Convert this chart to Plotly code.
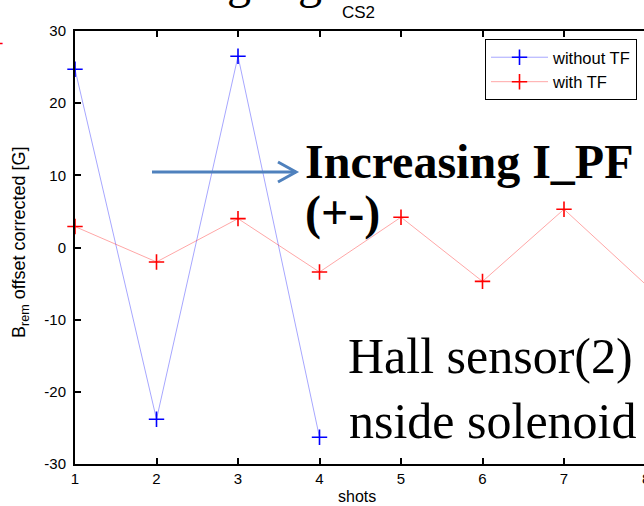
import plotly.graph_objects as go

# Remanent field (offset corrected) per shot, in gauss
shots_without_tf = [1, 2, 3, 4]
brem_without_tf = [24.7, -23.8, 26.5, -26.3]
shots_with_tf = [1, 2, 3, 4, 5, 6, 7, 8]
brem_with_tf = [2.9, -2.0, 4.0, -3.4, 4.2, -4.7, 5.3, -5.1]

y_ticks = [-30, -20, -10, 0, 10, 20, 30]
y_tick_text = ["-30", "-20", "-10", "0", "10", "20", "30"]
x_ticks = [1, 2, 3, 4, 5, 6, 7]

W, H = 644, 506
L, R, T, B = 75, 644, 31, 464
X_UNIT = 81.5  # pixels per shot


def px(x):
    return (x - L) / (R - L)


def py(y):
    return (B - y) / (B - T)


SANS = "Liberation Sans"
SERIF = "Liberation Serif"
BLUE = "#0000ff"
RED = "#ff0000"
ARROW = "#4f81bd"

fig = go.Figure()
fig.add_trace(go.Scatter(
    x=shots_without_tf, y=brem_without_tf, name="without TF",
    mode="lines+markers",
    line=dict(color="rgba(0,0,255,0.35)", width=1),
    marker=dict(symbol="cross-thin", size=11, color=BLUE,
                line=dict(color=BLUE, width=1.6)),
    cliponaxis=False,
))
fig.add_trace(go.Scatter(
    x=shots_with_tf, y=brem_with_tf, name="with TF",
    mode="lines+markers",
    line=dict(color="rgba(255,0,0,0.35)", width=1),
    marker=dict(symbol="cross-thin", size=11, color=RED,
                line=dict(color=RED, width=1.6)),
    cliponaxis=False,
))

axis_font = dict(family=SANS, size=15, color="black")

fig.update_layout(
    width=W, height=H,
    margin=dict(l=L, r=W - R, t=T, b=H - B, pad=0),
    paper_bgcolor="white", plot_bgcolor="white",
    showlegend=True,
    legend=dict(
        x=px(637), xanchor="right", y=py(39), yanchor="top",
        bordercolor="black", borderwidth=1, bgcolor="white",
        font=dict(family=SANS, size=16.5, color="black"),
        tracegroupgap=0, itemwidth=57,
    ),
    xaxis=dict(
        range=[1, 1 + (R - L) / X_UNIT],
        tickmode="array", tickvals=x_ticks,
        ticks="inside", ticklen=6, tickwidth=2, tickcolor="black",
        showline=True, linecolor="black", linewidth=2, mirror="ticks",
        showgrid=False, zeroline=False,
        tickfont=axis_font,
    ),
    yaxis=dict(
        range=[-30, 30],
        tickmode="array", tickvals=y_ticks, ticktext=y_tick_text,
        ticks="inside", ticklen=6, tickwidth=2, tickcolor="black",
        showline=True, linecolor="black", linewidth=2, mirror=False,
        showgrid=False, zeroline=False,
        tickfont=axis_font, ticklabelstandoff=4,
    ),
    yaxis2=dict(
        overlaying="y", side="right", matches="y",
        tickmode="array", tickvals=y_ticks,
        ticks="inside", ticklen=6, tickwidth=2, tickcolor="black",
        showticklabels=False, showline=False, showgrid=False, zeroline=False,
    ),
)

# arrow pointing right, drawn as a line with an open chevron head
ax0, ax1, ay = 152, 296, 172
fig.add_shape(type="path", xref="paper", yref="paper",
              path=f"M{px(ax0)},{py(ay)} L{px(ax1)},{py(ay)}",
              line=dict(color=ARROW, width=3))
fig.add_shape(type="path", xref="paper", yref="paper",
              path=(f"M{px(ax1 - 18)},{py(ay - 10)} L{px(ax1)},{py(ay)} "
                    f"L{px(ax1 - 18)},{py(ay + 10)}"),
              line=dict(color=ARROW, width=3))

annotations = [
    # title remnants at the top edge
    dict(text="g", x=px(239), y=py(10), xanchor="center", yanchor="bottom",
         font=dict(family=SERIF, size=48, color="black")),
    dict(text="g", x=px(310), y=py(10), xanchor="center", yanchor="bottom",
         font=dict(family=SERIF, size=48, color="black")),
    dict(text="CS2", x=px(340), y=py(12), xanchor="left", yanchor="middle",
         font=dict(family=SANS, size=17, color="black")),
    # overlay captions
    dict(text="<b>Increasing I_PF</b>", x=px(303), y=py(161),
         xanchor="left", yanchor="middle",
         font=dict(family=SERIF, size=48, color="black")),
    dict(text="<b>(+-)</b>", x=px(303), y=py(213),
         xanchor="left", yanchor="middle",
         font=dict(family=SERIF, size=48, color="black")),
    dict(text="Hall sensor(2)", x=px(346), y=py(356),
         xanchor="left", yanchor="middle",
         font=dict(family=SERIF, size=50, color="black")),
    dict(text="nside solenoid", x=px(347), y=py(421),
         xanchor="left", yanchor="middle",
         font=dict(family=SERIF, size=50, color="black")),
    # axis titles
    dict(text="B<sub>rem</sub> offset corrected [G]", textangle=-90,
         x=px(20), y=py(243), xanchor="center", yanchor="middle",
         font=dict(family=SANS, size=18, color="black")),
    dict(text="shots", x=px(357), y=py(497), xanchor="center", yanchor="middle",
         font=dict(family=SANS, size=16, color="black")),
    # last x tick label sits on the right edge
    dict(text="8", x=px(L + 7 * X_UNIT), y=py(478), xanchor="center",
         yanchor="middle", font=axis_font),
    # neighbouring panel marker at the left edge
    dict(text="+", x=px(-2), y=py(44), xanchor="center", yanchor="middle",
         font=dict(family=SANS, size=20, color=RED)),
]
for a in annotations:
    a.update(xref="paper", yref="paper", showarrow=False)
fig.update_layout(annotations=annotations)

fig.write_html("out.html")
